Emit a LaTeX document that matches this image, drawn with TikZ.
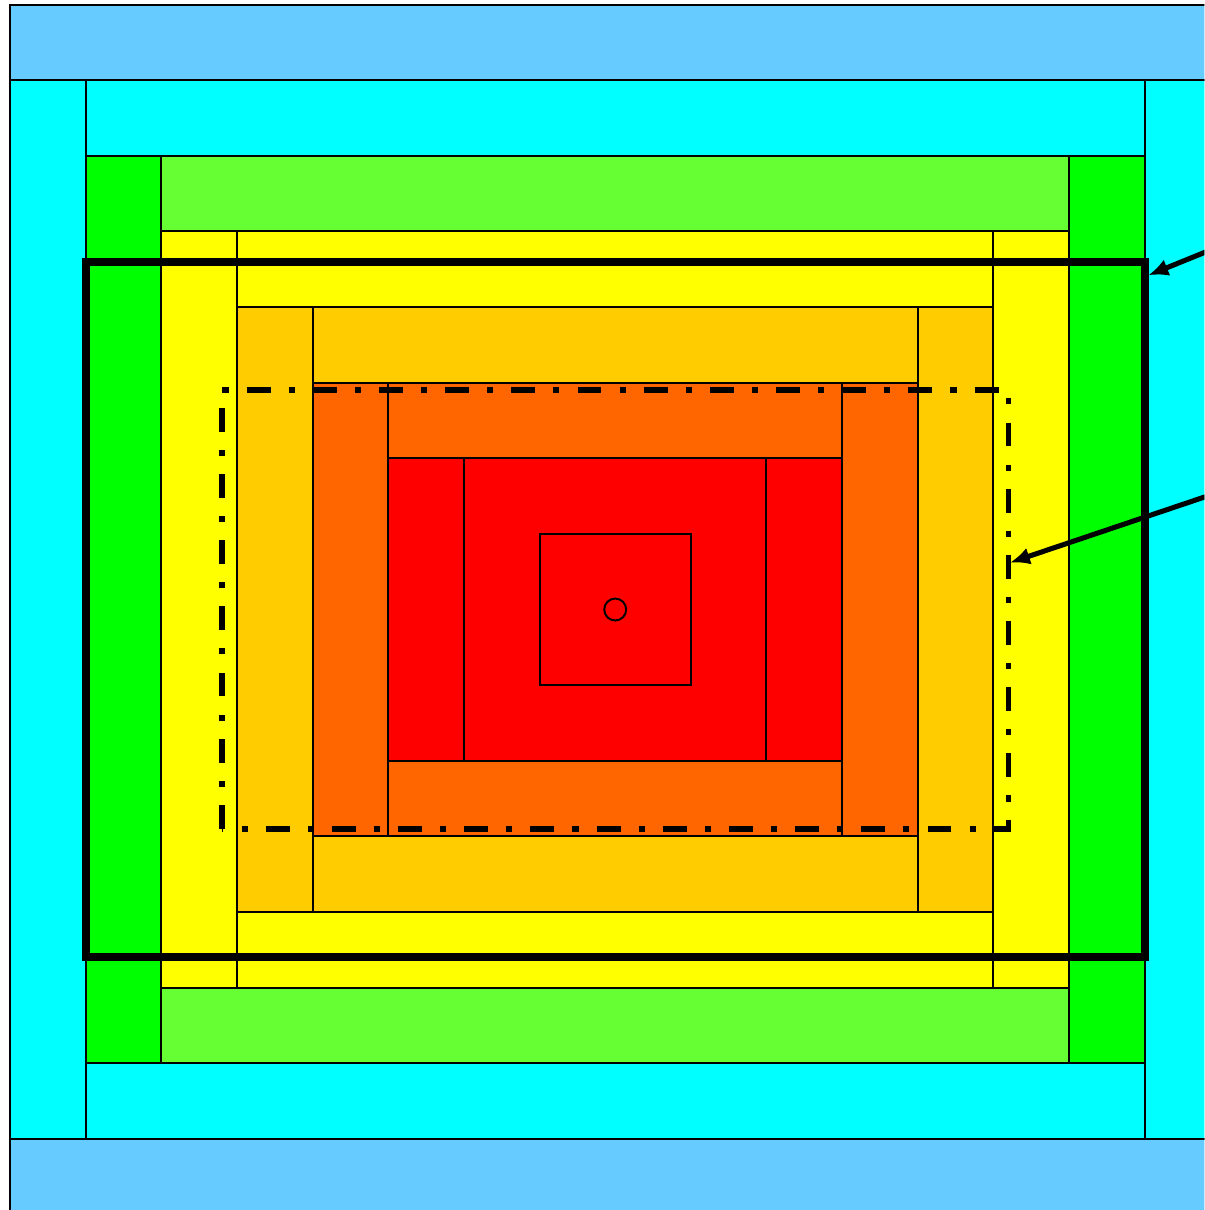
\documentclass[tikz,border=0pt]{standalone}
\usetikzlibrary{arrows.meta}

\definecolor{skyBlue}{HTML}{66CCFF}
\definecolor{aqua}{HTML}{00FFFF}
\definecolor{limeGreen}{HTML}{00FF00}
\definecolor{grassGreen}{HTML}{66FF33}
\definecolor{lemon}{HTML}{FFFF00}
\definecolor{amber}{HTML}{FFCC00}
\definecolor{tangerine}{HTML}{FF6600}
\definecolor{scarlet}{HTML}{FF0000}

\begin{document}
\begin{tikzpicture}[
    strip/.style={draw=black, line width=0.75pt},
    frame/.style={draw=black, line width=3pt},
    zone/.style={draw=black, line width=2.2pt, dash pattern=on 9pt off 6.8pt on 2.3pt off 6.8pt},
    pointer/.style={-{Latex[length=7.5pt, width=6.5pt]}, line width=1.9pt},
  ]
    \clip (-8.135,-7.94) rectangle (7.79,8.06);

    % centre block
    \draw[strip, fill=scarlet] (-2,-2) rectangle (2,2);

    % rings of strips, side strips first, then top and bottom
    \foreach \n/\vcol/\hcol in {2/scarlet/tangerine, 3/tangerine/amber, 4/amber/lemon,
                                 5/lemon/grassGreen, 6/limeGreen/aqua, 7/aqua/skyBlue} {
      \pgfmathtruncatemacro\m{\n+1}
      \draw[strip, fill=\vcol] (-\m,-\n) rectangle (-\n,\n);
      \draw[strip, fill=\vcol] (\n,-\n) rectangle (\m,\n);
      \draw[strip, fill=\hcol] (-\m,\n) rectangle (\m,\m);
      \draw[strip, fill=\hcol] (-\m,-\m) rectangle (\m,-\n);
    }

    \draw[strip] (-1,-1) rectangle (1,1);
    \draw[strip] (0,0) circle (0.145);

    \draw[frame] (-7,-4.6) rectangle (7,4.6);
    \draw[zone] (-5.2,-2.9) rectangle (5.2,2.9);

    \coordinate (frameTip) at (7.05,4.42);
    \coordinate (zoneTip) at (5.22,0.62);
    \coordinate (frameTail) at (8.6,5.05);
    \coordinate (zoneTail) at (8.6,1.76);

    \draw[pointer] (frameTail) -- (frameTip);
    \draw[pointer] (zoneTail) -- (zoneTip);
\end{tikzpicture}
\end{document}
